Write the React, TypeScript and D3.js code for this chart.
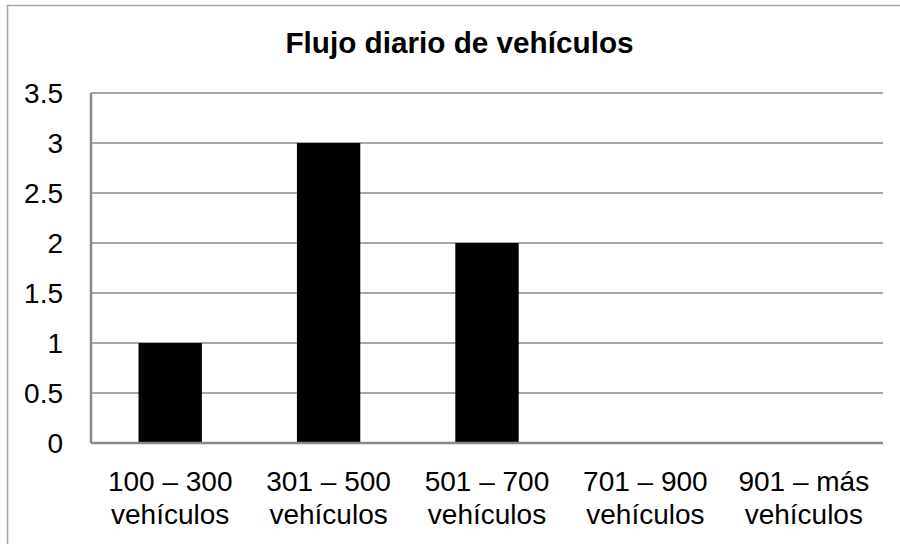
import React, { useEffect, useRef } from 'react';
import * as d3 from 'd3';

const categories = ['100 – 300|vehículos', '301 – 500|vehículos', '501 – 700|vehículos', '701 – 900|vehículos', '901 – más|vehículos'];
const values = [1, 3, 2, 0, 0];
const yTicks = [0, 0.5, 1, 1.5, 2, 2.5, 3, 3.5];
const title = 'Flujo diario de vehículos';

const App = () => {
  const svgRef = useRef<SVGSVGElement>(null);

  useEffect(() => {
    const width = 900;
    const height = 544;
    const margin = { top: 93, right: 17, bottom: 101, left: 91 };
    const font = 'Liberation Sans, Arial, sans-serif';

    const svg = d3.select(svgRef.current)
      .attr('width', width)
      .attr('height', height);
    svg.selectAll('*').remove();

    // chart area border (right and bottom run off the picture)
    svg.append('rect')
      .attr('x', 7.5).attr('y', 5.5)
      .attr('width', 920).attr('height', 560)
      .attr('fill', '#fff')
      .attr('stroke', '#a6a6a6')
      .attr('stroke-width', 1.5);

    const x = d3.scaleBand()
      .domain(categories)
      .range([margin.left, width - margin.right])
      .paddingInner(0.6)
      .paddingOuter(0.3);

    const y = d3.scaleLinear()
      .domain([0, 3.5])
      .range([height - margin.bottom, margin.top]);

    // gridlines
    svg.append('g')
      .selectAll('line')
      .data(yTicks.filter(d => d > 0))
      .enter().append('line')
      .attr('x1', margin.left)
      .attr('x2', width - margin.right)
      .attr('y1', d => y(d))
      .attr('y2', d => y(d))
      .attr('stroke', '#898989')
      .attr('stroke-width', 1.5);

    // bars
    svg.append('g')
      .selectAll('rect')
      .data(values)
      .enter().append('rect')
      .attr('x', (d, i) => x(categories[i])!)
      .attr('y', d => y(d))
      .attr('width', x.bandwidth())
      .attr('height', d => y(0) - y(d))
      .attr('fill', '#000');

    // axis lines
    svg.append('line')
      .attr('x1', margin.left).attr('x2', margin.left)
      .attr('y1', y(3.5)).attr('y2', y(0))
      .attr('stroke', '#898989').attr('stroke-width', 2.5);
    svg.append('line')
      .attr('x1', margin.left).attr('x2', width - margin.right)
      .attr('y1', y(0)).attr('y2', y(0))
      .attr('stroke', '#898989').attr('stroke-width', 2.5);

    // y tick labels
    svg.append('g')
      .selectAll('text')
      .data(yTicks)
      .enter().append('text')
      .attr('x', 63)
      .attr('y', d => y(d) + 9.5)
      .attr('text-anchor', 'end')
      .style('font-family', font)
      .style('font-size', '28px')
      .text(d => String(d));

    // x labels, two lines each
    const xl = svg.append('g')
      .selectAll('text')
      .data(categories)
      .enter().append('text')
      .attr('x', d => x(d)! + x.bandwidth() / 2)
      .attr('y', 490.5)
      .attr('text-anchor', 'middle')
      .style('font-family', font)
      .style('font-size', '28px');
    xl.append('tspan')
      .attr('x', d => x(d)! + x.bandwidth() / 2)
      .text(d => d.split('|')[0]);
    xl.append('tspan')
      .attr('x', d => x(d)! + x.bandwidth() / 2)
      .attr('dy', 33.5)
      .text(d => d.split('|')[1]);

    // title
    svg.append('text')
      .attr('x', 459.5)
      .attr('y', 53)
      .attr('text-anchor', 'middle')
      .style('font-family', font)
      .style('font-size', '29.7px')
      .style('font-weight', 'bold')
      .text(title);
  }, []);

  return (
    <svg ref={svgRef} style={{ position: 'absolute', left: 0, top: 0 }}></svg>
  );
};

export default App;
